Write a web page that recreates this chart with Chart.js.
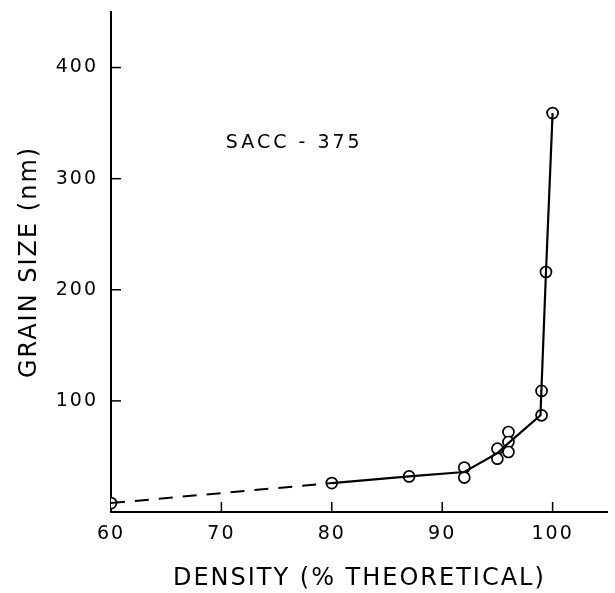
<!DOCTYPE html>
<html>
<head>
<meta charset="utf-8">
<script src="https://cdn.jsdelivr.net/npm/chart.js@4.4.0/dist/chart.umd.min.js"></script>
<style>
  html, body { margin: 0; padding: 0; background: #fff; }
  #wrap { width: 615px; height: 593px; }
</style>
</head>
<body>
<div id="wrap"><canvas id="grainChart"></canvas></div>
<script>
// measured points (density %, grain size nm)
const densityPts = [60, 80, 87, 92, 92, 95, 95, 96, 96, 96, 99, 99, 99.4, 100];
const grainPts = [8, 26, 32, 40, 31, 57, 48, 72, 63, 54, 109, 87, 216, 359];

// hand-drawn curve through the data
const curveDensity = [80, 87, 92, 95, 96, 98.9, 99.4, 100];
const curveGrain = [26, 32, 36, 53, 62, 87, 216, 359];

// dashed extrapolation
const dashDensity = [60, 80];
const dashGrain = [8, 26];

const xTicks = [60, 70, 80, 90, 100];
const yTicks = [100, 200, 300, 400];
const label = 'SACC - 375';

const FONT = "'DejaVu Sans', sans-serif";

function pairs(xs, ys) {
    return xs.map((x, i) => ({ x: x, y: ys[i] }));
}

// lettering in the original is widely spaced
const spacing = {
    id: 'spacing',
    beforeUpdate(chart) { chart.ctx.letterSpacing = '2px'; },
    beforeDraw(chart) { chart.ctx.letterSpacing = '2px'; }
};

// tick marks drawn inward from the axes
const innerTicks = {
    id: 'innerTicks',
    afterDatasetsDraw(chart) {
        const { ctx, chartArea, scales } = chart;
        ctx.save();
        ctx.strokeStyle = '#000';
        ctx.lineWidth = 1.5;
        xTicks.forEach(v => {
            if (v === scales.x.min) return;
            const px = scales.x.getPixelForValue(v);
            ctx.beginPath();
            ctx.moveTo(px, chartArea.bottom);
            ctx.lineTo(px, chartArea.bottom - 10);
            ctx.stroke();
        });
        yTicks.forEach(v => {
            const py = scales.y.getPixelForValue(v);
            ctx.beginPath();
            ctx.moveTo(chartArea.left, py);
            ctx.lineTo(chartArea.left + 10, py);
            ctx.stroke();
        });
        // sample label
        ctx.fillStyle = '#000';
        ctx.letterSpacing = '3px';
        ctx.font = '19px ' + FONT;
        ctx.textAlign = 'center';
        ctx.textBaseline = 'middle';
        ctx.fillText(label, scales.x.getPixelForValue(76.6), scales.y.getPixelForValue(332));
        ctx.restore();
    }
};

function initChart() {
    const ctx = document.getElementById('grainChart').getContext('2d');

    new Chart(ctx, {
        type: 'scatter',
        data: {
            datasets: [
                {
                    data: pairs(dashDensity, dashGrain),
                    showLine: true,
                    borderColor: '#000',
                    borderWidth: 2,
                    borderDash: [14, 10],
                    pointRadius: 0
                },
                {
                    data: pairs(curveDensity, curveGrain),
                    showLine: true,
                    borderColor: '#000',
                    borderWidth: 2.2,
                    pointRadius: 0
                },
                {
                    data: pairs(densityPts, grainPts),
                    showLine: false,
                    pointRadius: 5.5,
                    pointBackgroundColor: '#fff',
                    pointBorderColor: '#000',
                    pointBorderWidth: 1.7
                }
            ]
        },
        options: {
            responsive: true,
            maintainAspectRatio: false,
            animation: false,
            layout: {
                padding: { top: 12, right: 3, left: 0, bottom: 0 }
            },
            plugins: {
                legend: { display: false },
                tooltip: { enabled: false }
            },
            scales: {
                x: {
                    type: 'linear',
                    min: 60,
                    max: 105,
                    afterBuildTicks: s => { s.ticks = xTicks.map(v => ({ value: v })); },
                    afterFit: s => { s.height = 81; s.paddingLeft = 0; s.paddingRight = 0; },
                    border: { display: true, color: '#000', width: 2 },
                    grid: { display: false },
                    ticks: {
                        color: '#000',
                        padding: 3,
                        font: { family: FONT, size: 19 }
                    },
                    title: {
                        display: true,
                        text: 'DENSITY (% THEORETICAL)',
                        color: '#000',
                        padding: { top: 11, bottom: 0 },
                        font: { family: FONT, size: 24 }
                    }
                },
                y: {
                    type: 'linear',
                    min: 0,
                    max: 450,
                    afterBuildTicks: s => { s.ticks = yTicks.map(v => ({ value: v })); },
                    afterFit: s => { s.width = 111; s.paddingTop = 0; s.paddingBottom = 0; },
                    border: { display: true, color: '#000', width: 2 },
                    grid: { display: false },
                    ticks: {
                        color: '#000',
                        padding: 5,
                        font: { family: FONT, size: 19 }
                    },
                    title: {
                        display: true,
                        text: 'GRAIN SIZE (nm)',
                        color: '#000',
                        padding: { top: 15, bottom: 0 },
                        font: { family: FONT, size: 24 }
                    }
                }
            }
        },
        plugins: [spacing, innerTicks]
    });
}

document.addEventListener('DOMContentLoaded', initChart);
</script>
</body>
</html>
